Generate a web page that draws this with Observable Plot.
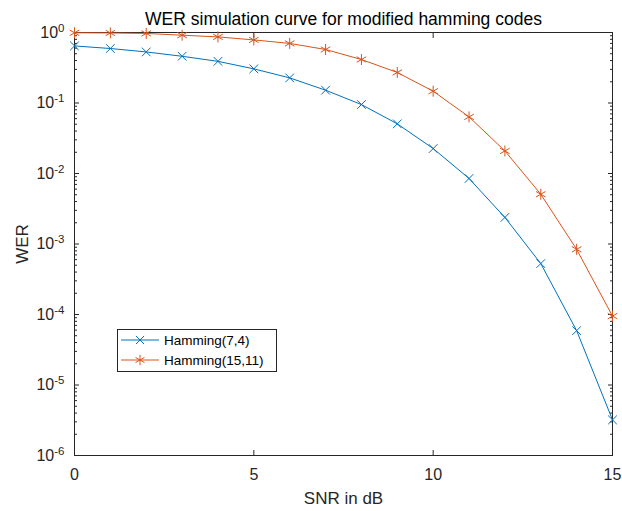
<!DOCTYPE html>
<html><head><meta charset="utf-8">
<script src="https://cdn.jsdelivr.net/npm/d3@7"></script>
<script src="https://cdn.jsdelivr.net/npm/@observablehq/plot@0.6"></script>
<style>
body{margin:0;background:#fff;font-family:Arial,"Liberation Sans",sans-serif}
#chart{position:relative;width:622px;height:511px}
#legend{position:absolute;left:117px;top:329px;width:158px;height:41px;border:1px solid #262626;background:#fff;font-size:13.5px;color:#000}
#legend .row{display:flex;align-items:center;height:20px;padding-left:3px}
#legend svg{margin-right:5px}
</style>
</head><body><div id="chart"></div>
<script>
const title = "WER simulation curve for modified hamming codes";
const xLabel = "SNR in dB";
const yLabel = "WER";
const seriesNames = ["Hamming(7,4)", "Hamming(15,11)"];
const seriesColors = ["#0072BD", "#D95319"];
const seriesSymbols = ["times", "asterisk"];
const snr = [0, 1, 2, 3, 4, 5, 6, 7, 8, 9, 10, 11, 12, 13, 14, 15];
const wer74 = [0.645, 0.593, 0.53, 0.46, 0.39, 0.305, 0.227, 0.152, 0.095, 0.0506, 0.0226, 0.0085, 0.00238, 5.28e-4, 5.9e-5, 3.2e-6];
const wer1511 = [0.99, 0.985, 0.97, 0.915, 0.866, 0.785, 0.70, 0.574, 0.414, 0.271, 0.147, 0.0635, 0.0209, 0.00508, 8.4e-4, 9.5e-5];
const xTicks = [0, 5, 10, 15];
const yTicks = [1, 1e-1, 1e-2, 1e-3, 1e-4, 1e-5, 1e-6];
const yTickLabels = ["10^0", "10^-1", "10^-2", "10^-3", "10^-4", "10^-5", "10^-6"];
const yMinorTicks = [];
for (let e = -6; e < 0; e++) for (let m = 2; m <= 9; m++) yMinorTicks.push(m * Math.pow(10, e));

const data = [
  ...snr.map((s, i) => ({snr: s, wer: wer74[i], code: seriesNames[0]})),
  ...snr.map((s, i) => ({snr: s, wer: wer1511[i], code: seriesNames[1]}))
];

const axisColor = "#262626";
const plot = Plot.plot({
  width: 622,
  height: 511,
  marginLeft: 74,
  marginRight: 10,
  marginTop: 32,
  marginBottom: 56,
  style: {fontFamily: "Arial, 'Liberation Sans', sans-serif", fontSize: "16px", color: axisColor, background: "#fff"},
  x: {domain: [0, 15]},
  y: {type: "log", domain: [1e-6, 1]},
  color: {domain: seriesNames, range: seriesColors},
  symbol: {domain: seriesNames, range: seriesSymbols},
  marks: [
    Plot.frame({stroke: axisColor, strokeWidth: 1}),
    Plot.axisY(yTicks, {anchor: "left", tickSize: -5, tickFormat: () => "", label: null, stroke: axisColor}),
    Plot.axisY(yTicks, {anchor: "right", tickSize: -5, tickFormat: () => "", label: null, stroke: axisColor}),
    Plot.axisY(yMinorTicks, {anchor: "left", tickSize: -3, tickFormat: () => "", label: null, stroke: axisColor}),
    Plot.axisY(yMinorTicks, {anchor: "right", tickSize: -3, tickFormat: () => "", label: null, stroke: axisColor}),
    Plot.axisX(xTicks, {anchor: "bottom", tickSize: -5, tickFormat: () => "", label: null, stroke: axisColor}),
    Plot.axisX(xTicks, {anchor: "top", tickSize: -5, tickFormat: () => "", label: null, stroke: axisColor}),
    Plot.axisY(yTicks, {anchor: "left", tickSize: 0, tickPadding: 10, tickFormat: (d) => yTickLabels[yTicks.indexOf(d)],
      label: yLabel, labelAnchor: "center", labelArrow: "none", labelOffset: 59, fontSize: 16, fill: axisColor}),
    Plot.axisX(xTicks, {anchor: "bottom", tickSize: 0, tickPadding: 13, tickFormat: (d) => String(d),
      label: xLabel, labelAnchor: "center", labelArrow: "none", labelOffset: 48, fontSize: 16, fill: axisColor}),
    Plot.line(data, {x: "snr", y: "wer", stroke: "code", strokeWidth: 1}),
    Plot.dot(data, {filter: (d) => d.code === seriesNames[0], x: "snr", y: "wer", stroke: "code", symbol: "code", r: 4, strokeWidth: 1, fill: "none"}),
    Plot.dot(data, {filter: (d) => d.code === seriesNames[1], x: "snr", y: "wer", stroke: "code", symbol: "code", r: 5.2, strokeWidth: 1, fill: "none"}),
    Plot.text([title], {frameAnchor: "top", dy: -20, text: (d) => d, fontSize: 17.5, fill: "#000"})
  ]
});

d3.select(plot).selectAll('g[aria-label="y-axis tick label"] text').each(function () {
  const t = d3.select(this);
  const s = t.text();
  if (s.includes("^")) {
    const [base, exp] = s.split("^");
    t.text("");
    t.append("tspan").text(base);
    t.append("tspan").attr("dy", "-0.5em").attr("font-size", "11.5px").text(exp);
  }
});
d3.select(plot).selectAll('g[aria-label="y-axis label"] text, g[aria-label="x-axis label"] text').attr("font-size", "17px");

const chart = document.getElementById("chart");
chart.appendChild(plot);

const legend = document.createElement("div");
legend.id = "legend";
seriesNames.forEach((name, i) => {
  const row = document.createElement("div");
  row.className = "row";
  const svg = d3.create("svg").attr("width", 38).attr("height", 14);
  svg.append("line").attr("x1", 0).attr("x2", 38).attr("y1", 7).attr("y2", 7).attr("stroke", seriesColors[i]);
  const sym = i === 0 ? d3.symbolTimes : d3.symbolAsterisk;
  svg.append("path").attr("d", d3.symbol(sym, i === 0 ? 45 : 75)()).attr("transform", "translate(19,7)")
    .attr("stroke", seriesColors[i]).attr("fill", "none");
  row.appendChild(svg.node());
  const span = document.createElement("span");
  span.textContent = name;
  row.appendChild(span);
  legend.appendChild(row);
});
chart.appendChild(legend);
</script>
</body></html>
